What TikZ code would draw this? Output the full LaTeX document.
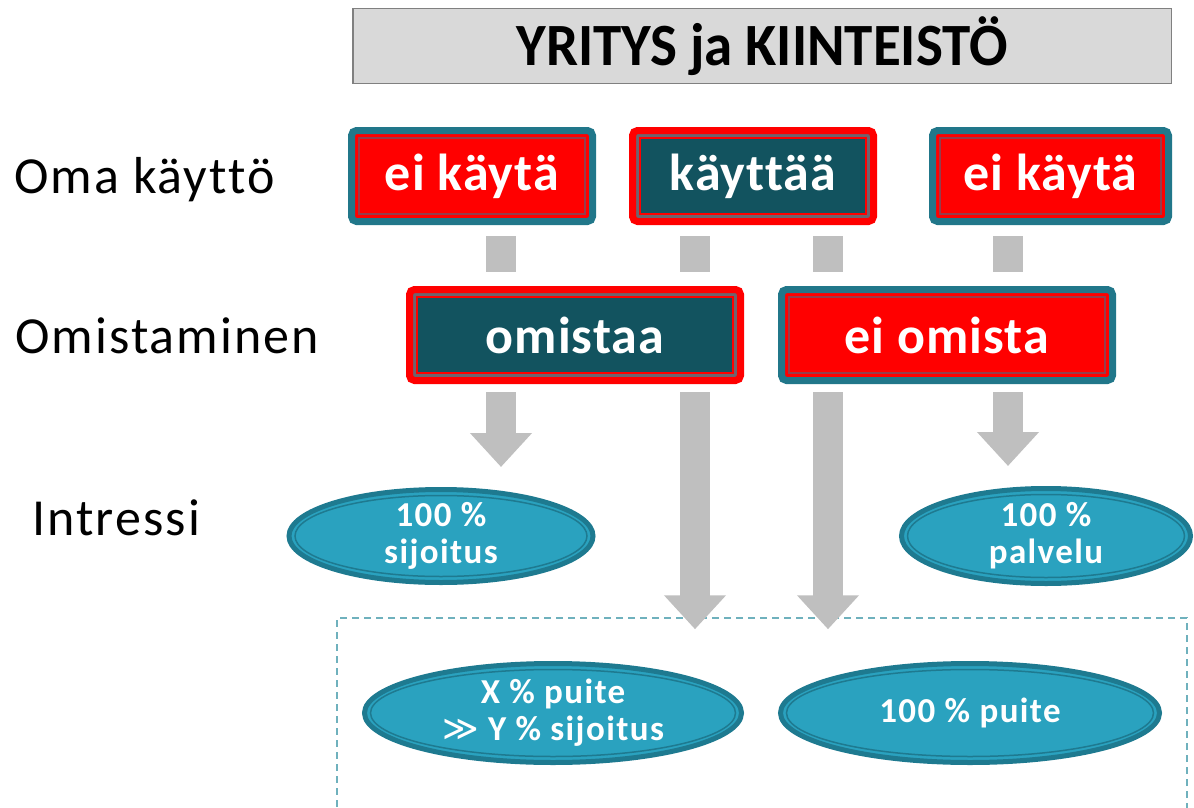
\documentclass[tikz,border=0pt]{standalone}
\usepackage{fontspec}
\setmainfont{Carlito}[Ligatures=NoCommon]
\newfontfamily\spacedfont{Carlito}[LetterSpace=4, Ligatures=NoCommon]
\newfontfamily\boxfont{Carlito}[LetterSpace=2, Ligatures=NoCommon]
\newfontfamily\symfont{DejaVu Sans}
\usepackage{graphicx}
\usepackage{tikz}
\usetikzlibrary{arrows.meta, shapes.geometric, calc}
\definecolor{boxred}{RGB}{255, 0, 0}
\definecolor{boxteal}{RGB}{33, 119, 138}
\definecolor{boxdark}{RGB}{18, 83, 95}
\definecolor{bandgray}{RGB}{110, 100, 110}
\definecolor{thinred}{RGB}{150, 60, 75}
\definecolor{ellfill}{RGB}{42, 162, 191}
\definecolor{ellline}{RGB}{30, 122, 144}
\definecolor{arrgray}{RGB}{191, 191, 191}
\definecolor{dashteal}{RGB}{111, 177, 189}
\definecolor{titlegray}{RGB}{217, 217, 217}

\begin{document}
\begin{tikzpicture}[x=1pt, y=-1pt,
  rowlabel/.style={anchor=base west, inner sep=0pt, font=\spacedfont\fontsize{52}{60}\selectfont},
  choice/.style 2 args={rectangle, rounded corners=5pt, line width=7pt, inner sep=0pt,
    minimum height=91pt, text=white, font=\boxfont\bfseries\fontsize{52}{56}\selectfont,
    path picture={
      \draw[sharp corners, #1, line width=3pt] ([shift={(5pt,5pt)}]path picture bounding box.south west) rectangle ([shift={(-5pt,-5pt)}]path picture bounding box.north east);
      \draw[sharp corners, #2, line width=1.2pt] ([shift={(7.5pt,7.5pt)}]path picture bounding box.south west) rectangle ([shift={(-7.5pt,-7.5pt)}]path picture bounding box.north east);
    }},
  nouse/.style={choice={boxred}{thinred}, draw=boxteal, fill=boxred},
  yesuse/.style={choice={bandgray}{boxred}, draw=boxred, fill=boxdark},
  result/.style={ellipse, fill=ellfill, draw=ellline, line width=5pt, inner sep=-12pt, align=center,
    text=white, font=\spacedfont\bfseries\fontsize{35}{37}\selectfont,
    path picture={
      \draw[ellline, line width=1.5pt] let \p1=(path picture bounding box.north east), \p2=(path picture bounding box.center)
        in (\p2) ellipse [x radius={\x1-\x2-6pt}, y radius={\y1-\y2-6pt}];
    }},
  flowbar/.style={draw=arrgray, line width=30pt},
  flowarrow/.style={flowbar, -{Triangle[width=60pt, length=34pt]}}]

  \useasboundingbox (0,0) rectangle (1194,808);

  % Title
  \node[draw=gray, line width=1.5pt, fill=titlegray, minimum width=818.5pt, minimum height=74.5pt, inner sep=0pt,
    font=\bfseries\fontsize{60}{62}\selectfont] (title) at (762,46) {\scalebox{0.95}[1]{YRITYS ja KIINTEISTÖ}};

  % Row labels
  \node[rowlabel] (lbluse) at (14,193) {Oma käyttö};
  \node[rowlabel] (lblown) at (15,353) {Omistaminen};
  \node[rowlabel] (lblint) at (32,535) {Intressi};

  % Oma kaytto
  \node[nouse, minimum width=241pt] (use1) at (472,176) {ei käytä};
  \node[yesuse, minimum width=241pt] (use2) at (753,176) {käyttää};
  \node[nouse, minimum width=236pt] (use3) at (1050.5,176) {ei käytä};

  % Omistaminen
  \node[yesuse, minimum width=331pt] (own1) at (575,335) {omistaa};
  \node[nouse, minimum width=331pt] (own2) at (947,335) {ei omista};

  % Intressi
  \node[result, minimum width=304pt, minimum height=93pt] (int1) at (441,536) {100 \%\\sijoitus};
  \node[result, minimum width=289pt, minimum height=95pt] (int2) at (1046,536) {100 \%\\palvelu};

  % Mixed case
  \node[draw=dashteal, dashed, dash pattern=on 7pt off 5pt, line width=1.5pt, minimum width=850pt, minimum height=230pt] (mix) at (762,733) {};
  \node[result, minimum width=377pt, minimum height=99pt] (mix1) at (553,713) {X \% puite\\{\symfont\mdseries ≫} Y \% sijoitus};
  \node[result, minimum width=379pt, minimum height=99pt] (mix2) at (970,713) {100 \% puite};

  % Columns of the gray connectors
  \coordinate (colA) at (501,0);
  \coordinate (colB) at (695,0);
  \coordinate (colC) at (828,0);
  \coordinate (colD) at (1008,0);

  \draw[flowbar, shorten <=11pt, shorten >=14pt] (colA |- use1.south) -- (colA |- own1.north);
  \draw[flowbar, shorten <=11pt, shorten >=14pt] (colB |- use2.south) -- (colB |- own1.north);
  \draw[flowbar, shorten <=11pt, shorten >=14pt] (colC |- use2.south) -- (colC |- own2.north);
  \draw[flowbar, shorten <=11pt, shorten >=14pt] (colD |- use3.south) -- (colD |- own2.north);

  \draw[flowarrow, shorten <=8pt, shorten >=20pt] (colA |- own1.south) -- (colA |- int1.north);
  \draw[flowarrow, shorten <=8pt, shorten >=-12pt] (colB |- own1.south) -- (colB |- mix.north);
  \draw[flowarrow, shorten <=8pt, shorten >=-12pt] (colC |- own2.south) -- (colC |- mix.north);
  \draw[flowarrow, shorten <=8pt, shorten >=20pt] (colD |- own2.south) -- (colD |- int2.north);
\end{tikzpicture}
\end{document}
